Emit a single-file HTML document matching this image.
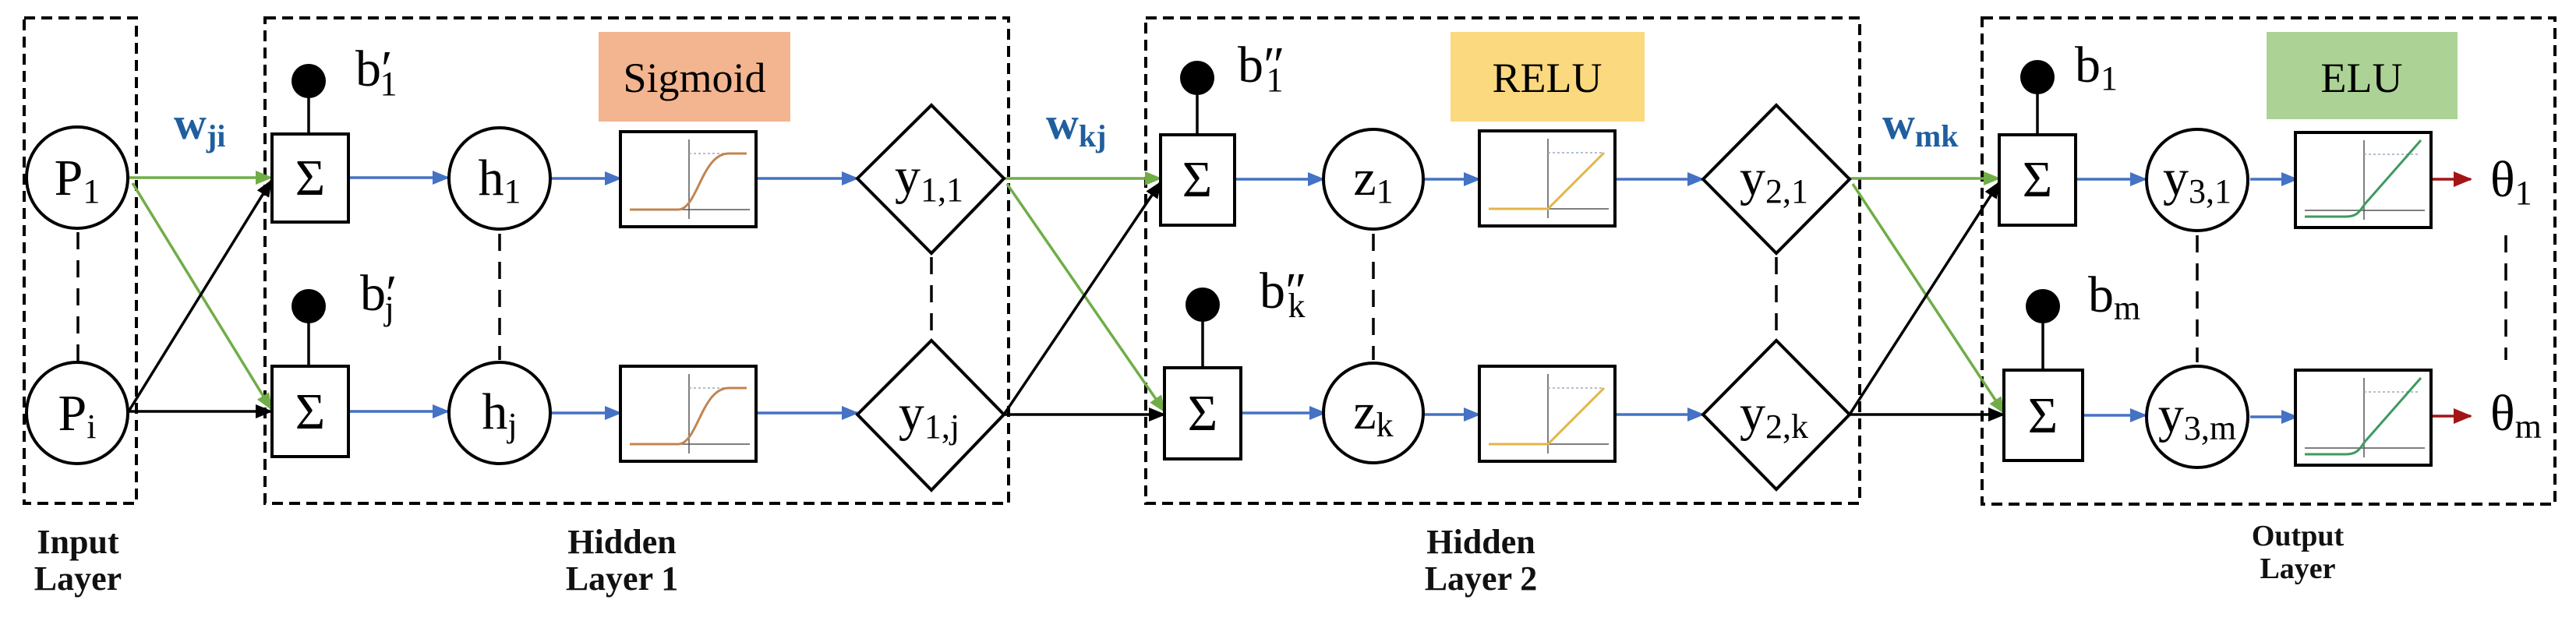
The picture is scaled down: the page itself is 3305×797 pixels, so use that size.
<!DOCTYPE html>
<html><head><meta charset="utf-8"><style>html,body{margin:0;padding:0;background:#fff}svg{display:block}</style></head>
<body>
<svg width="3305" height="797" viewBox="0 0 3305 797" xmlns="http://www.w3.org/2000/svg" font-family="'Liberation Serif', serif">
<defs>
<marker id="ag" markerWidth="22" markerHeight="18" refX="20" refY="9" orient="auto" markerUnits="userSpaceOnUse"><path d="M0,0 L22,9 L0,18 z" fill="#70ad47"/></marker>
<marker id="ak" markerWidth="22" markerHeight="18" refX="20" refY="9" orient="auto" markerUnits="userSpaceOnUse"><path d="M0,0 L22,9 L0,18 z" fill="#000"/></marker>
<marker id="bl" markerWidth="22" markerHeight="18" refX="20" refY="9" orient="auto" markerUnits="userSpaceOnUse"><path d="M0,0 L22,9 L0,18 z" fill="#4472c4"/></marker>
<marker id="rd" markerWidth="24" markerHeight="20" refX="22" refY="10" orient="auto" markerUnits="userSpaceOnUse"><path d="M0,0 L24,10 L0,20 z" fill="#a31515"/></marker>
<g id="axes">
<rect x="0" y="0" width="174" height="122" fill="#fff" stroke="#000" stroke-width="4"/>
<line x1="12" y1="100" x2="166" y2="100" stroke="#555" stroke-width="1.5"/>
<line x1="88" y1="10" x2="88" y2="112" stroke="#555" stroke-width="1.5"/>
<line x1="88" y1="28" x2="160" y2="28" stroke="#9ab" stroke-width="1.5" stroke-dasharray="3 3"/>
</g>
</defs>

<g fill="none" stroke="#000" stroke-width="4" stroke-dasharray="14 8">
<rect x="31" y="23" width="144" height="623"/>
<rect x="340" y="23" width="954" height="623"/>
<rect x="1470" y="23" width="916" height="623"/>
<rect x="2543" y="23" width="735" height="624"/>
</g>

<rect x="768" y="41" width="246" height="115" fill="#f3b58f"/>
<text x="891" y="118" font-size="54" text-anchor="middle">Sigmoid</text>
<rect x="1861" y="41" width="249" height="115" fill="#fbd97f"/>
<text x="1985" y="118" font-size="54" text-anchor="middle">RELU</text>
<rect x="2908" y="41" width="245" height="112" fill="#acd395"/>
<text x="3030" y="118" font-size="54" text-anchor="middle">ELU</text>

<g stroke-width="3.5" fill="none">
<line x1="165" y1="228" x2="348" y2="228" stroke="#70ad47" marker-end="url(#ag)"/>
<line x1="170" y1="235" x2="348" y2="525" stroke="#70ad47" marker-end="url(#ag)"/>
<line x1="165" y1="528" x2="348" y2="232" stroke="#000" marker-end="url(#ak)"/>
<line x1="165" y1="528" x2="348" y2="528" stroke="#000" marker-end="url(#ak)"/>
<line x1="1288" y1="229" x2="1489" y2="229" stroke="#70ad47" marker-end="url(#ag)"/>
<line x1="1292" y1="236" x2="1494" y2="528" stroke="#70ad47" marker-end="url(#ag)"/>
<line x1="1288" y1="532" x2="1489" y2="234" stroke="#000" marker-end="url(#ak)"/>
<line x1="1288" y1="532" x2="1494" y2="532" stroke="#000" marker-end="url(#ak)"/>
<line x1="2373" y1="229" x2="2565" y2="229" stroke="#70ad47" marker-end="url(#ag)"/>
<line x1="2377" y1="236" x2="2571" y2="530" stroke="#70ad47" marker-end="url(#ag)"/>
<line x1="2373" y1="532" x2="2565" y2="234" stroke="#000" marker-end="url(#ak)"/>
<line x1="2373" y1="532" x2="2571" y2="532" stroke="#000" marker-end="url(#ak)"/>
</g>

<g fill="#1f5f9f" font-weight="bold">
<text x="223" y="178" font-size="58">w<tspan font-size="40" dy="10">ji</tspan></text>
<text x="1342" y="178" font-size="58">w<tspan font-size="40" dy="10">kj</tspan></text>
<text x="2415" y="178" font-size="58">w<tspan font-size="40" dy="10">mk</tspan></text>
</g>

<g stroke="#4472c4" stroke-width="3.5" fill="none" marker-end="url(#bl)">
<line x1="449" y1="228" x2="575" y2="228"/>
<line x1="707" y1="229" x2="796" y2="229"/>
<line x1="970" y1="229" x2="1100" y2="229"/>
<line x1="449" y1="528" x2="575" y2="528"/>
<line x1="707" y1="530" x2="796" y2="530"/>
<line x1="970" y1="530" x2="1100" y2="530"/>
<line x1="1586" y1="230" x2="1698" y2="230"/>
<line x1="1826" y1="230" x2="1898" y2="230"/>
<line x1="2070" y1="230" x2="2185" y2="230"/>
<line x1="1594" y1="530" x2="1700" y2="530"/>
<line x1="1826" y1="532" x2="1898" y2="532"/>
<line x1="2070" y1="532" x2="2185" y2="532"/>
<line x1="2665" y1="230" x2="2753" y2="230"/>
<line x1="2887" y1="230" x2="2947" y2="230"/>
<line x1="2674" y1="533" x2="2753" y2="533"/>
<line x1="2887" y1="535" x2="2947" y2="535"/>
</g>
<g stroke="#a31515" stroke-width="3.5" marker-end="url(#rd)">
<line x1="3116" y1="230" x2="3170" y2="230"/>
<line x1="3116" y1="534" x2="3170" y2="534"/>
</g>

<g stroke="#000" stroke-width="3.5" stroke-dasharray="22 14">
<line x1="100" y1="298" x2="100" y2="465"/>
<line x1="641" y1="300" x2="641" y2="462"/>
<line x1="1195" y1="330" x2="1195" y2="432"/>
<line x1="1762" y1="300" x2="1762" y2="462"/>
<line x1="2279" y1="330" x2="2279" y2="432"/>
<line x1="2819" y1="302" x2="2819" y2="465"/>
<line x1="3215" y1="302" x2="3215" y2="462"/>
</g>

<g fill="#fff" stroke="#000" stroke-width="4">
<circle cx="99" cy="228" r="65"/>
<circle cx="99" cy="530" r="65"/>
<rect x="349" y="172" width="98" height="113"/>
<rect x="349" y="470" width="98" height="116"/>
<circle cx="641" cy="229" r="65"/>
<circle cx="641" cy="530" r="65"/>
<polygon points="1100,229 1195,135 1288,229 1195,325"/>
<polygon points="1100,532 1195,437 1288,532 1195,629"/>
<rect x="1489" y="173" width="95" height="116"/>
<rect x="1494" y="472" width="98" height="117"/>
<circle cx="1762" cy="230" r="64"/>
<circle cx="1762" cy="530" r="64"/>
<polygon points="2185,230 2279,135 2373,230 2279,325"/>
<polygon points="2185,532 2279,437 2373,532 2279,628"/>
<rect x="2565" y="173" width="98" height="116"/>
<rect x="2571" y="475" width="101" height="116"/>
<circle cx="2819" cy="231" r="65"/>
<circle cx="2819" cy="535" r="65"/>
</g>

<g stroke="#000" stroke-width="3.5">
<line x1="396" y1="104" x2="396" y2="172"/>
<line x1="396" y1="393" x2="396" y2="470"/>
<line x1="1536" y1="100" x2="1536" y2="173"/>
<line x1="1543" y1="391" x2="1543" y2="472"/>
<line x1="2614" y1="99" x2="2614" y2="173"/>
<line x1="2621" y1="393" x2="2621" y2="475"/>
</g>
<g fill="#000">
<circle cx="396" cy="104" r="22"/>
<circle cx="396" cy="393" r="22"/>
<circle cx="1536" cy="100" r="22"/>
<circle cx="1543" cy="391" r="22"/>
<circle cx="2614" cy="99" r="22"/>
<circle cx="2621" cy="393" r="22"/>
</g>

<use href="#axes" x="796" y="169"/>
<use href="#axes" x="796" y="470"/>
<path d="M808,269 L870,269 C895,269 900,197 935,197 L958,197" fill="none" stroke="#c08552" stroke-width="3"/>
<path d="M808,570 L870,570 C895,570 900,498 935,498 L958,498" fill="none" stroke="#c08552" stroke-width="3"/>
<use href="#axes" x="1898" y="168"/>
<use href="#axes" x="1898" y="470"/>
<path d="M1910,268 L1986,268 L2058,196" fill="none" stroke="#e3b547" stroke-width="3"/>
<path d="M1910,570 L1986,570 L2058,498" fill="none" stroke="#e3b547" stroke-width="3"/>
<use href="#axes" x="2945" y="170"/>
<use href="#axes" x="2945" y="475"/>
<path d="M2957,278 L3010,278 C3025,278 3028,270 3034,262 L3106,180" fill="none" stroke="#3f9a60" stroke-width="3"/>
<path d="M2957,583 L3010,583 C3025,583 3028,575 3034,567 L3106,485" fill="none" stroke="#3f9a60" stroke-width="3"/>

<g font-size="66" fill="#000" text-anchor="middle">
<text x="99" y="250">P<tspan font-size="44" dy="10">1</tspan></text>
<text x="99" y="552">P<tspan font-size="44" dy="10">i</tspan></text>
<text x="398" y="250">Σ</text>
<text x="398" y="550">Σ</text>
<text x="641" y="250">h<tspan font-size="44" dy="10">1</tspan></text>
<text x="641" y="550">h<tspan font-size="44" dy="10">j</tspan></text>
<text x="1192" y="248">y<tspan font-size="44" dy="10">1,1</tspan></text>
<text x="1192" y="552">y<tspan font-size="44" dy="10">1,j</tspan></text>
<text x="1536" y="252">Σ</text>
<text x="1543" y="552">Σ</text>
<text x="1762" y="250">z<tspan font-size="44" dy="10">1</tspan></text>
<text x="1762" y="550">z<tspan font-size="44" dy="10">k</tspan></text>
<text x="2276" y="250">y<tspan font-size="44" dy="10">2,1</tspan></text>
<text x="2276" y="552">y<tspan font-size="44" dy="10">2,k</tspan></text>
<text x="2614" y="252">Σ</text>
<text x="2621" y="555">Σ</text>
<text x="2819" y="250">y<tspan font-size="44" dy="10">3,1</tspan></text>
<text x="2819" y="554">y<tspan font-size="44" dy="10">3,m</tspan></text>
</g>
<g font-size="66" fill="#000">
<text x="3195" y="252">θ<tspan font-size="44" dy="10">1</tspan></text>
<text x="3195" y="552">θ<tspan font-size="44" dy="10">m</tspan></text>
<text x="456" y="110">b′<tspan font-size="44" dy="12" dx="-16">1</tspan></text>
<text x="462" y="398">b′<tspan font-size="44" dy="12" dx="-16">j</tspan></text>
<text x="1588" y="105">b″<tspan font-size="44" dy="12" dx="-24">1</tspan></text>
<text x="1616" y="395">b″<tspan font-size="44" dy="12" dx="-24">k</tspan></text>
<text x="2662" y="105">b<tspan font-size="44" dy="10">1</tspan></text>
<text x="2679" y="400">b<tspan font-size="44" dy="10">m</tspan></text>
</g>

<g font-weight="bold" font-size="44" text-anchor="middle" fill="#111">
<text x="100" y="710">Input</text>
<text x="100" y="757">Layer</text>
<text x="798" y="710">Hidden</text>
<text x="798" y="757">Layer 1</text>
<text x="1900" y="710">Hidden</text>
<text x="1900" y="757">Layer 2</text>
<text x="2948" y="700" font-size="38">Output</text>
<text x="2948" y="742" font-size="38">Layer</text>
</g>
</svg>
</body></html>
